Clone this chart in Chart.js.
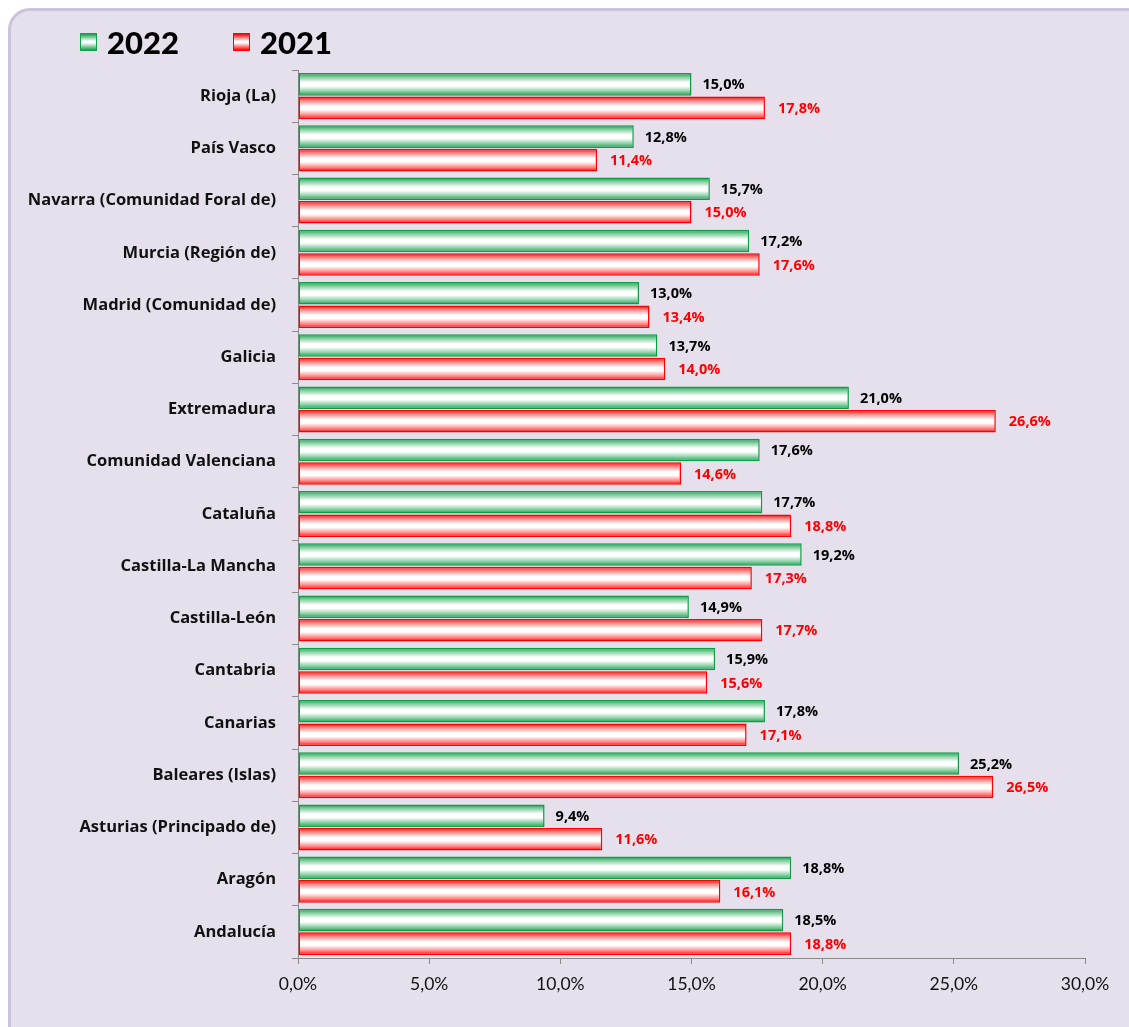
<!DOCTYPE html>
<html>
<head>
<meta charset="utf-8">
<script src="https://cdn.jsdelivr.net/npm/chart.js@4.4.1/dist/chart.umd.min.js"></script>
<style>
  html, body { margin: 0; padding: 0; width: 1129px; height: 1027px; overflow: hidden; background: #ffffff; }
  #frame { position: absolute; left: 8px; top: 8px; width: 1200px; height: 1100px; box-sizing: border-box;
           border: 3px solid #CBC3DC; border-radius: 22px; background: #E5E0EC; }
  #wrap { position: absolute; left: 0; top: 0; width: 1129px; height: 1027px; }
  .leg { position: absolute; top: 24px; font-family: Lato, "Open Sans", sans-serif; font-weight: 900; font-size: 31px; color: #000; line-height: 36px; display: flex; align-items: center; }
  .leg .box { width: 17px; height: 18px; margin-right: 10px; box-sizing: border-box; }
</style>
</head>
<body>
<div id="frame"></div>
<div id="wrap"><canvas id="c" width="1129" height="1027"></canvas></div>
<div class="leg" id="leg1" style="left:80px;"><span class="box" style="border:1.5px solid #14A04A;background:linear-gradient(#14A04A,#ffffff 45%,#ffffff 55%,#14A04A);"></span><span>2022</span></div>
<div class="leg" id="leg2" style="left:233px;"><span class="box" style="border:1.5px solid #FF0000;background:linear-gradient(#FF0000,#ffffff 45%,#ffffff 55%,#FF0000);"></span><span>2021</span></div>
<script>
const categories = [
  "Rioja (La)", "País Vasco", "Navarra (Comunidad Foral de)", "Murcia (Región de)",
  "Madrid (Comunidad de)", "Galicia", "Extremadura", "Comunidad Valenciana",
  "Cataluña", "Castilla-La Mancha", "Castilla-León", "Cantabria", "Canarias",
  "Baleares (Islas)", "Asturias (Principado de)", "Aragón", "Andalucía"
];
const values2022 = [15.0, 12.8, 15.7, 17.2, 13.0, 13.7, 21.0, 17.6, 17.7, 19.2, 14.9, 15.9, 17.8, 25.2, 9.4, 18.8, 18.5];
const values2021 = [17.8, 11.4, 15.0, 17.6, 13.4, 14.0, 26.6, 14.6, 18.8, 17.3, 17.7, 15.6, 17.1, 26.5, 11.6, 16.1, 18.8];
const xTickValues = [0, 5, 10, 15, 20, 25, 30];

const CAT_PCT = 0.9, BAR_PCT = 0.96;
const fmt = v => v.toFixed(1).replace('.', ',') + '%';

function gradientFor(edge, mid) {
  return function (ctx) {
    const chart = ctx.chart;
    const ys = chart.scales && chart.scales.y;
    if (!ys || ctx.type !== 'data' || !isFinite(ys.height) || ys.height <= 0) return edge;
    const n = chart.data.labels.length;
    const w = ys.height / n;
    const h = w * CAT_PCT / 2 * BAR_PCT;
    const center = ys.getPixelForValue(ctx.dataIndex) + (ctx.datasetIndex - 0.5) * w * CAT_PCT / 2;
    const top = center - h / 2;
    const g = chart.ctx.createLinearGradient(0, top, 0, top + h);
    g.addColorStop(0, edge);
    g.addColorStop(0.17, mid);
    g.addColorStop(0.42, '#ffffff');
    g.addColorStop(0.58, '#ffffff');
    g.addColorStop(0.83, mid);
    g.addColorStop(1, edge);
    return g;
  };
}

const valueLabels = {
  id: 'valueLabels',
  afterDatasetsDraw(chart) {
    const c = chart.ctx;
    c.save();
    c.font = 'bold 14.5px "Open Sans", Lato, sans-serif';
    c.textBaseline = 'middle';
    c.textAlign = 'left';
    chart.data.datasets.forEach((ds, i) => {
      const meta = chart.getDatasetMeta(i);
      c.fillStyle = i === 0 ? '#000000' : '#FF0000';
      const dx = i === 0 ? 11 : 13;
      const dy = 1;
      meta.data.forEach((el, j) => {
        c.fillText(fmt(ds.data[j]), el.x + dx, el.y + dy);
      });
    });
    c.restore();
  }
};

new Chart(document.getElementById('c'), {
  type: 'bar',
  data: {
    labels: categories,
    datasets: [
      { label: '2022', data: values2022, backgroundColor: gradientFor('#0E9C46', '#7FCB9C'), borderColor: '#0E9C46', borderWidth: 1.5, borderSkipped: false },
      { label: '2021', data: values2021, backgroundColor: gradientFor('#FF0000', '#FF8080'), borderColor: '#FF0000', borderWidth: 1.5, borderSkipped: false }
    ]
  },
  options: {
    indexAxis: 'y',
    responsive: false,
    animation: false,
    devicePixelRatio: 1,
    categoryPercentage: CAT_PCT,
    barPercentage: BAR_PCT,
    layout: { padding: { top: 70, left: 20, right: 44, bottom: 22 } },
    plugins: { legend: { display: false }, tooltip: { enabled: false } },
    scales: {
      y: {
        afterFit(s) { s.width = 278; },
        grid: { offset: true, drawOnChartArea: false, tickLength: 6, color: '#8A8A8A', lineWidth: 1 },
        border: { color: '#8A8A8A', width: 1 },
        ticks: { padding: 16, color: '#111111', font: { family: '"Open Sans", Lato, sans-serif', weight: 'bold', size: 16.5 } }
      },
      x: {
        min: 0, max: 30,
        afterBuildTicks(s) { s.ticks = xTickValues.map(v => ({ value: v })); },
        grid: { drawOnChartArea: false, tickLength: 6, color: '#8A8A8A', lineWidth: 1 },
        border: { color: '#8A8A8A', width: 1 },
        ticks: { padding: 10, color: '#111111', font: { family: 'Lato, "Open Sans", sans-serif', size: 17.5 }, callback: v => fmt(v) }
      }
    }
  },
  plugins: [valueLabels]
});
</script>
</body>
</html>
